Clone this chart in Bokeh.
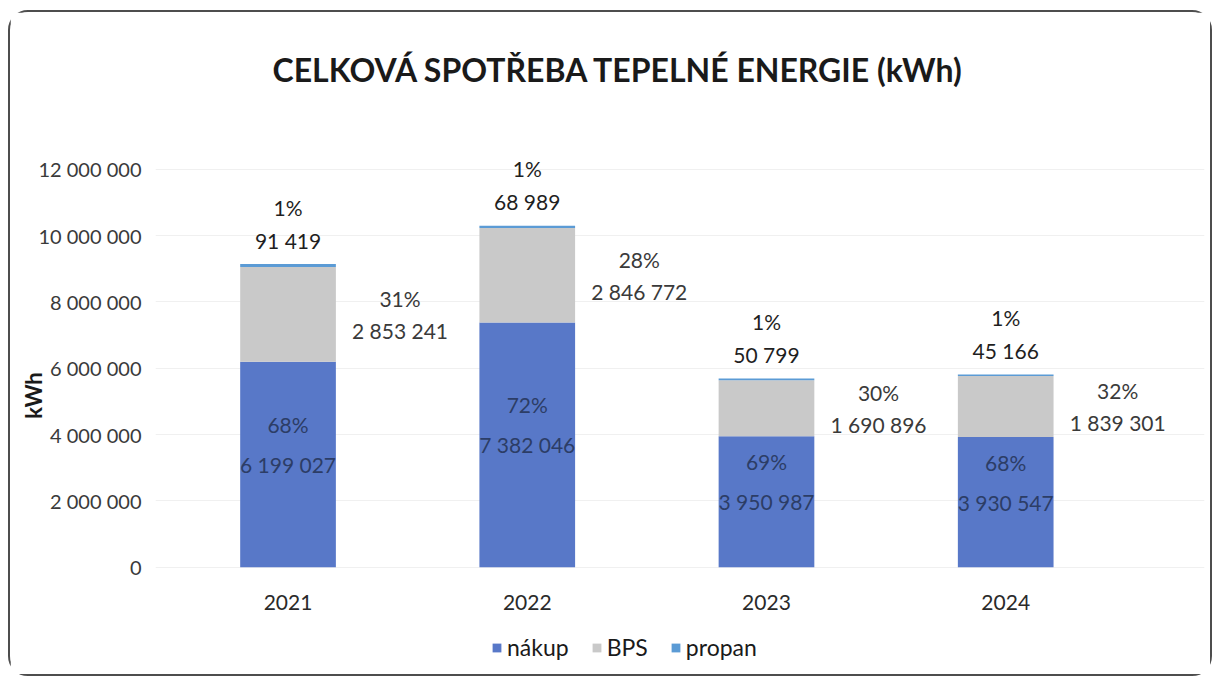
from bokeh.plotting import figure
from bokeh.models import ColumnDataSource, Range1d, FixedTicker, Legend, LegendItem
from bokeh.core.properties import value
from bokeh.embed import file_html
from bokeh.resources import INLINE

# ---- data ----
years = ["2021", "2022", "2023", "2024"]
nakup = [6199027, 7382046, 3950987, 3930547]
bps = [2853241, 2846772, 1690896, 1839301]
propan = [91419, 68989, 50799, 45166]
series_names = ["nákup", "BPS", "propan"]
y_ticks = [0, 2000000, 4000000, 6000000, 8000000, 10000000, 12000000]
y_tick_labels = ["0", "2 000 000", "4 000 000", "6 000 000", "8 000 000", "10 000 000", "12 000 000"]
title_text = "CELKOVÁ SPOTŘEBA TEPELNÉ ENERGIE (kWh)"

colors = ["#5878C8", "#C9C9C9", "#5B9BD5"]
FONT = "Lato"


def fmt(v):
    return f"{v:,}".replace(",", " ")


xs = list(range(len(years)))
totals = [a + b + c for a, b, c in zip(nakup, bps, propan)]
src = ColumnDataSource(dict(
    x=xs,
    year=years,
    nakup=nakup, bps=bps, propan=propan,
    nakup_mid=[a / 2 for a in nakup],
    bps_mid=[a + b / 2 for a, b in zip(nakup, bps)],
    top=totals,
    nakup_val=[fmt(v) for v in nakup],
    bps_val=[fmt(v) for v in bps],
    propan_val=[fmt(v) for v in propan],
    nakup_pct=[f"{round(v / t * 100)}%" for v, t in zip(nakup, totals)],
    bps_pct=[f"{round(v / t * 100)}%" for v, t in zip(bps, totals)],
    propan_pct=[f"{round(v / t * 100)}%" for v, t in zip(propan, totals)],
))

p = figure(width=1204, height=666, output_backend="svg", toolbar_location=None,
           x_range=Range1d(-0.554, 3.831), y_range=Range1d(-2990000, 13350000),
           min_border_left=145, min_border_right=10, min_border_top=109, min_border_bottom=12)
p.styles = {"border": "2px solid #4d4d4d", "border-radius": "20px",
            "margin-left": "8px", "margin-top": "10px"}
p.outline_line_color = None
p.background_fill_color = "white"

p.title.text = title_text
p.title.align = "left"
p.title.offset = 117
p.title.text_font = FONT
p.title.text_font_style = "bold"
p.title.text_font_size = "32px"
p.title.text_color = "#1a1a1a"
p.title.standoff = 71

rs = p.vbar_stack(["nakup", "bps", "propan"], x="x", width=0.40, color=colors,
                  line_color=None, source=src)

legend = Legend(items=[LegendItem(label=n, renderers=[r]) for n, r in zip(series_names, rs)],
                orientation="horizontal", location=(336, 5),
                label_text_font=FONT, label_text_font_size="23px", label_text_color="#1a1a1a",
                glyph_width=11, glyph_height=11, spacing=22, label_standoff=5,
                border_line_color=None, background_fill_alpha=0, margin=0, padding=4)
p.add_layout(legend, "center")

common = dict(source=src, text_align="center", text_baseline="middle",
              text_font=value(FONT), text_font_size="21px")
# category labels under the bars
p.text(x="x", y=0, text="year", y_offset=35, text_color="#2a2a2a", **common)
# nákup labels inside the bar
p.text(x="x", y="nakup_mid", text="nakup_val", text_color="#2c3d66", **common)
p.text(x="x", y="nakup_mid", text="nakup_pct", y_offset=-40, text_color="#2c3d66", **common)
# BPS labels to the right
p.text(x="x", y="bps_mid", text="bps_pct", x_offset=112, y_offset=-16, text_color="#3a3a3a", **common)
p.text(x="x", y="bps_mid", text="bps_val", x_offset=112, y_offset=16, text_color="#3a3a3a", **common)
# propan labels above
p.text(x="x", y="top", text="propan_val", y_offset=-24, text_color="#1f1f1f", **common)
p.text(x="x", y="top", text="propan_pct", y_offset=-57, text_color="#1f1f1f", **common)

# axes
p.xaxis.visible = False
p.yaxis.ticker = FixedTicker(ticks=y_ticks)
p.yaxis.major_label_overrides = {t: l for t, l in zip(y_ticks, y_tick_labels)}
p.yaxis.axis_line_color = None
p.yaxis.major_tick_line_color = None
p.yaxis.minor_tick_line_color = None
p.yaxis.major_label_text_font = FONT
p.yaxis.major_label_text_font_size = "20px"
p.yaxis.major_label_text_color = "#3a3a3a"
p.yaxis.major_label_standoff = 8
p.yaxis.axis_label = "kWh"
p.yaxis.axis_label_text_font = FONT
p.yaxis.axis_label_text_font_size = "22px"
p.yaxis.axis_label_text_font_style = "bold"
p.yaxis.axis_label_text_color = "#1a1a1a"
p.yaxis.axis_label_standoff = -12

p.xgrid.grid_line_color = None
p.ygrid.grid_line_color = "#f0f0f0"
p.ygrid.ticker = FixedTicker(ticks=y_ticks)

open("out.html", "w").write(file_html(p, INLINE))
